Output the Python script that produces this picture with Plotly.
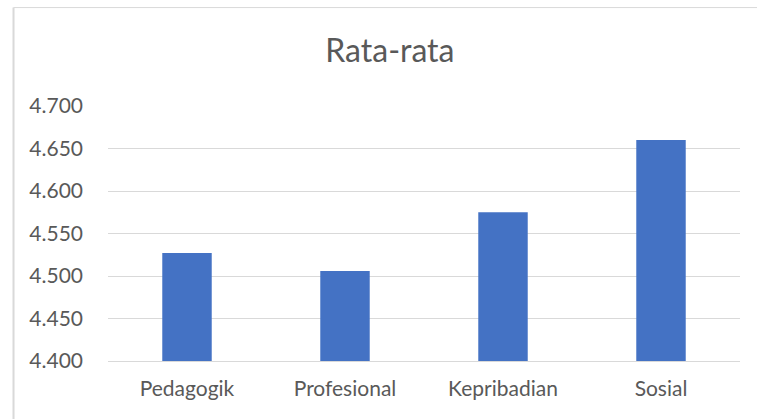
import plotly.graph_objects as go

categories = ["Pedagogik", "Profesional", "Kepribadian", "Sosial"]
values = [4.527, 4.506, 4.575, 4.660]
tick_vals = [4.40, 4.45, 4.50, 4.55, 4.60, 4.65, 4.70]
tick_text = ["4.400", "4.450", "4.500", "4.550", "4.600", "4.650", "4.700"]
axis_min = 4.4

fig = go.Figure(go.Bar(
    x=categories, y=[v - axis_min for v in values], base=axis_min,
    customdata=values,
    hovertemplate="%{x}: %{customdata:.3f}<extra></extra>",
    marker=dict(color="#4472C4", line=dict(width=0)),
    width=0.313,
))

font_family = "Lato, 'Open Sans', sans-serif"
fig.update_layout(
    width=757, height=419,
    margin=dict(l=108, r=17, t=106, b=58),
    paper_bgcolor="white", plot_bgcolor="white",
    showlegend=False,
    title=dict(text="Rata-rata", xref="paper", x=0.446, xanchor="center",
               yref="container", y=0.878, yanchor="middle",
               font=dict(family=font_family, size=32, color="#595959")),
    font=dict(family=font_family, color="#595959"),
    xaxis=dict(showgrid=False, showline=True, linecolor="#d9d9d9", linewidth=1,
               ticks="", ticklabelstandoff=9, tickfont=dict(size=21, color="#595959")),
    yaxis=dict(range=[4.4, 4.7], tickvals=tick_vals, ticktext=tick_text,
               showgrid=True, gridcolor="#d9d9d9", gridwidth=1, zeroline=False,
               showline=False, ticks="", ticklabelstandoff=24,
               tickfont=dict(size=21, color="#595959")),
    shapes=[
        dict(type="line", xref="paper", yref="paper", x0=-0.1495, x1=-0.1495, y0=-0.4, y1=1.386,
             line=dict(color="#d9d9d9", width=2)),
        dict(type="line", xref="paper", yref="paper", x0=-0.1495, x1=1.1, y0=1.386, y1=1.386,
             line=dict(color="#d9d9d9", width=1)),
    ],
)

fig.write_html("out.html", config={"displayModeBar": False},
               post_script="document.body.style.margin='0';")
